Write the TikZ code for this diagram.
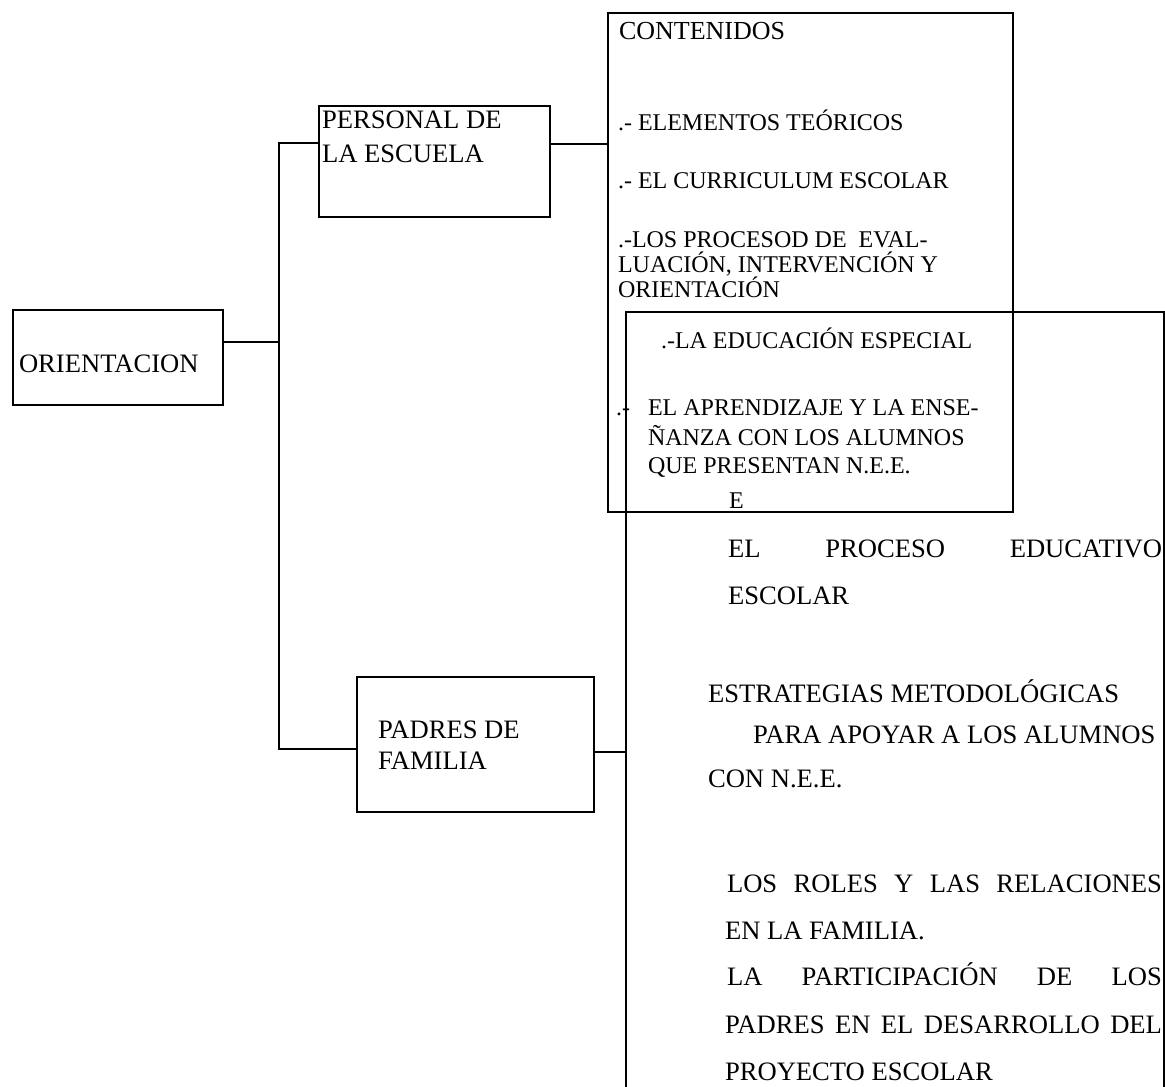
\documentclass[tikz,border=0pt]{standalone}
\usepackage{fontspec}
\setmainfont{Liberation Serif}
\usepackage{tikz}
\usetikzlibrary{positioning}

\begin{document}
\begin{tikzpicture}[x=0.5pt,y=-0.5pt,
  box/.style={draw,line width=1pt,anchor=north west,inner sep=0pt},
  txt/.style={anchor=base west,inner sep=0pt,font=\fontsize{13.3}{16}\selectfont},
  item/.style={anchor=base west,inner sep=0pt,font=\fontsize{12}{14}\selectfont},
  line width=1pt]
\clip (0,0) rectangle (1165,1086);
% boxes
\node[box,minimum width=105pt,minimum height=47.5pt] (orient) at (12,309) {};
\node[box,minimum width=115.5pt,minimum height=55.5pt] (persbox) at (318,105) {};
\node[box,minimum width=118.5pt,minimum height=67.5pt] (padres) at (356,676) {};
\node[box,minimum width=202.5pt,minimum height=249.5pt] (contbox) at (607,12) {};
\node[box,minimum width=269pt,minimum height=400pt] (bigbox) at (625,311) {};
% box texts
\node[txt] (tOrient) at (18,372) {ORIENTACION};
\node[txt] (tPers1) at (321,128) {PERSONAL DE};
\node[txt] (tPers2) at (321,162) {LA ESCUELA};
\node[txt] (tPad1) at (377,738) {PADRES DE};
\node[txt] (tPad2) at (377,769) {FAMILIA};
% connectors
\coordinate (jo) at (279,342);
\coordinate (jp) at (279,143);
\coordinate (jf) at (279,749);
\coordinate (jc) at (580,144);
\coordinate (jd) at (610,752);
\draw (orient.east |- jo) -- (jo);
\draw (persbox.west |- jp) -- (jp) -- (jf) -- (padres.west |- jf);
\draw (persbox.east |- jc) -- (contbox.west |- jc);
\draw (padres.east |- jd) -- (bigbox.west |- jd);
% contenidos
\node[txt,font=\fontsize{13}{16}\selectfont] (cTitle) at (618,40) {CONTENIDOS};
\node[item] (c1) at (617,130) {.- ELEMENTOS TEÓRICOS};
\node[item] (c2) at (617,188) {.- EL CURRICULUM ESCOLAR};
\node[item] (c3a) at (617,247) {.-LOS PROCESOD DE\ \ EVAL-};
\node[item] (c3b) at (617,272) {LUACIÓN, INTERVENCIÓN Y};
\node[item] (c3c) at (617,297) {ORIENTACIÓN};
\node[item] (c4) at (660,348) {.-LA EDUCACIÓN ESPECIAL};
\node[item] (c5dot) at (615,415) {.-};
\node[item] (c5a) at (647,415) {EL APRENDIZAJE Y LA ENSE-};
\node[item] (c5b) at (647,445) {ÑANZA CON LOS ALUMNOS};
\node[item] (c5c) at (647,473) {QUE PRESENTAN N.E.E.};
\node[item] (c5d) at (728,508) {E};
% padres de familia
\node[txt] (f1a) at (727,557) {\makebox[217pt][l]{EL\hfill PROCESO\hfill EDUCATIVO}};
\node[txt] (f1b) at (727,604) {ESCOLAR};
\node[txt] (f2a) at (707,702) {ESTRATEGIAS METODOLÓGICAS};
\node[txt] (f2b) at (752,743) {PARA APOYAR A LOS ALUMNOS};
\node[txt] (f2c) at (707,787) {CON N.E.E.};
\node[txt] (f3a) at (726,892) {\makebox[217.5pt][l]{LOS\hfill ROLES\hfill Y\hfill LAS\hfill RELACIONES}};
\node[txt] (f3b) at (724,939) {EN LA FAMILIA.};
\node[txt] (f4a) at (726,985) {\makebox[217.5pt][l]{LA\hfill PARTICIPACIÓN\hfill DE\hfill LOS}};
\node[txt] (f4b) at (724,1033) {\makebox[218.5pt][l]{PADRES\hfill EN\hfill EL\hfill DESARROLLO\hfill DEL}};
\node[txt] (f4c) at (724,1080) {PROYECTO ESCOLAR};
\end{tikzpicture}
\end{document}
